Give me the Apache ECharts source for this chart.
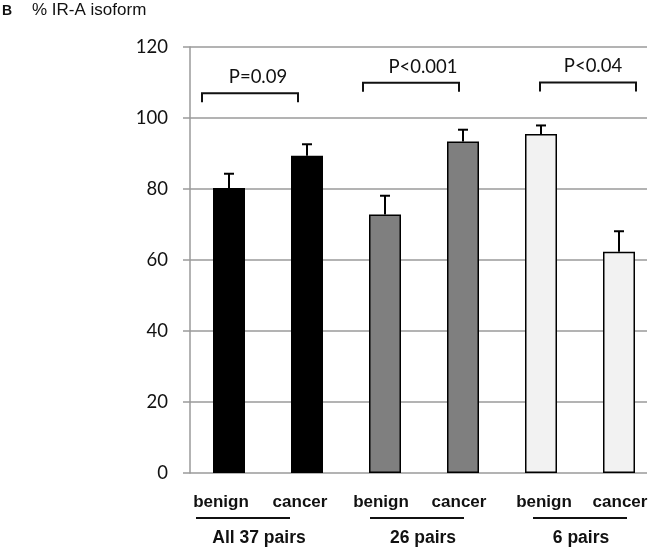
<!DOCTYPE html>
<html><head><meta charset="utf-8">
<script src="https://cdn.jsdelivr.net/npm/echarts@6/dist/echarts.min.js"></script>
<style>html,body{margin:0;padding:0;background:#fff;}#c{width:663px;height:550px;}</style>
</head><body><div id="c"></div>
<script>
// ---- data ----
const categories = ['benign', 'cancer', 'benign', 'cancer', 'benign', 'cancer'];
const groups = ['All 37 pairs', '26 pairs', '6 pairs'];
const values = [80.3, 89.4, 72.8, 93.4, 95.5, 62.3];
const errors = [4.0, 3.2, 5.3, 3.3, 2.4, 5.8];
const pLabels = ['P=0.09', 'P<0.001', 'P<0.04'];
const bracketLevels = [107.0, 109.9, 110.0];
const yTicks = [0, 20, 40, 60, 80, 100, 120];

// ---- styles / layout (not data) ----
const barColors = ['#000000', '#000000', '#7f7f7f', '#7f7f7f', '#f2f2f2', '#f2f2f2'];
const catLabelShift = [-8, -7, -4, -4, 3, 1];
const groupLabelShift = [-9, -1, 1];
const bracketOff = [[-27, -9], [-22, -4], [-1, 17]];
const pTextShift = [8, 12, 5];
const underlineShift = [-25, -7, 0];

const chart = echarts.init(document.getElementById('c'));
const GRID_TOP = 47, GRID_H = 426;

const catRich = {};
categories.forEach((c, i) => {
  const s = catLabelShift[i];
  catRich['c' + i] = {fontFamily: 'Liberation Sans', fontWeight: 'bold', fontSize: 17, color: '#111',
    padding: s < 0 ? [0, -2 * s, 0, 0] : [0, 0, 0, 2 * s]};
});
const grpRich = {};
groups.forEach((g, i) => {
  const s = groupLabelShift[i];
  grpRich['g' + i] = {fontFamily: 'Liberation Sans', fontWeight: 'bold', fontSize: 17.5, color: '#111',
    padding: s < 0 ? [0, -2 * s, 0, 0] : [0, 0, 0, 2 * s]};
});

const option = {
  animation: false,
  backgroundColor: '#fff',
  title: [
    {text: 'B', left: -3, top: -1, textStyle: {fontFamily: 'Liberation Sans', fontWeight: 'bold', fontSize: 14, color: '#111'}},
    {text: '% IR-A isoform', left: 27, top: -3, textStyle: {fontFamily: 'Liberation Sans', fontWeight: 'normal', fontSize: 17, color: '#111'}}
  ],
  grid: [
    {left: 190, top: GRID_TOP, width: 468, height: GRID_H},
    {left: 190, top: GRID_TOP, width: 457, height: GRID_H}
  ],
  xAxis: [
    {type: 'category', gridIndex: 0, data: categories,
      axisLine: {show: false}, axisTick: {show: false},
      axisLabel: {margin: 21, interval: 0, formatter: (v, i) => '{c' + i + '|' + v + '}', rich: catRich}},
    {type: 'category', gridIndex: 0, data: groups, position: 'bottom',
      axisLine: {show: false}, axisTick: {show: false},
      axisLabel: {margin: 56, interval: 0, formatter: (v, i) => '{g' + i + '|' + v + '}', rich: grpRich}},
    {type: 'value', gridIndex: 1, show: false, min: 0, max: 1}
  ],
  yAxis: [
    {type: 'value', gridIndex: 0, min: 0, max: 120, interval: 20, show: false},
    {type: 'value', gridIndex: 1, min: yTicks[0], max: yTicks[yTicks.length - 1], interval: 20,
      axisLine: {show: true, lineStyle: {color: '#9a9a9a', width: 1.5}},
      axisTick: {show: true, length: 7, lineStyle: {color: '#9a9a9a', width: 1.5}},
      splitLine: {show: true, lineStyle: {color: '#9a9a9a', width: 1.5}},
      axisLabel: {margin: 22, fontFamily: 'Lato', fontSize: 18.5, color: '#111'}}
  ],
  series: [
    {type: 'bar', xAxisIndex: 0, yAxisIndex: 0, barWidth: 32, z: 3,
      data: values.map((v, i) => ({value: v, itemStyle: {color: barColors[i], borderColor: '#000', borderWidth: 1.5}}))},
    {type: 'custom', xAxisIndex: 0, yAxisIndex: 0, z: 4, clip: false,
      data: values.map((v, i) => [i, v, v + errors[i]]),
      renderItem: function (params, api) {
        const p0 = api.coord([api.value(0), api.value(1)]);
        const p1 = api.coord([api.value(0), api.value(2)]);
        const st = {stroke: '#000', lineWidth: 2};
        return {type: 'group', children: [
          {type: 'line', shape: {x1: p0[0], y1: p0[1], x2: p1[0], y2: p1[1]}, style: st},
          {type: 'line', shape: {x1: p1[0] - 5, y1: p1[1], x2: p1[0] + 5, y2: p1[1]}, style: st}
        ]};
      }},
    {type: 'custom', xAxisIndex: 0, yAxisIndex: 0, z: 5, clip: false,
      data: groups.map((g, k) => [2 * k, 2 * k + 1, bracketLevels[k]]),
      renderItem: function (params, api) {
        const k = params.dataIndex;
        const a = api.coord([api.value(0), api.value(2)]);
        const b = api.coord([api.value(1), api.value(2)]);
        const x1 = a[0] + bracketOff[k][0], x2 = b[0] + bracketOff[k][1], y = a[1];
        const st = {stroke: '#111', lineWidth: 2, fill: null};
        const base = api.coord([api.value(0), 0]);
        const ua = base[0], ub = api.coord([api.value(1), 0])[0];
        const um = (ua + ub) / 2 + underlineShift[k];
        return {type: 'group', children: [
          {type: 'polyline', shape: {points: [[x1, y + 9], [x1, y], [x2, y], [x2, y + 9]]}, style: st},
          {type: 'text', x: (x1 + x2) / 2 + pTextShift[k], y: y - 16,
            style: {text: pLabels[k], fontFamily: 'Lato', fontSize: 18.5, fill: '#111', align: 'center', verticalAlign: 'middle'}},
          {type: 'line', shape: {x1: um - 47, y1: base[1] + 45, x2: um + 47, y2: base[1] + 45}, style: {stroke: '#111', lineWidth: 2}}
        ]};
      }}
  ]
};
chart.setOption(option);
</script></body></html>
